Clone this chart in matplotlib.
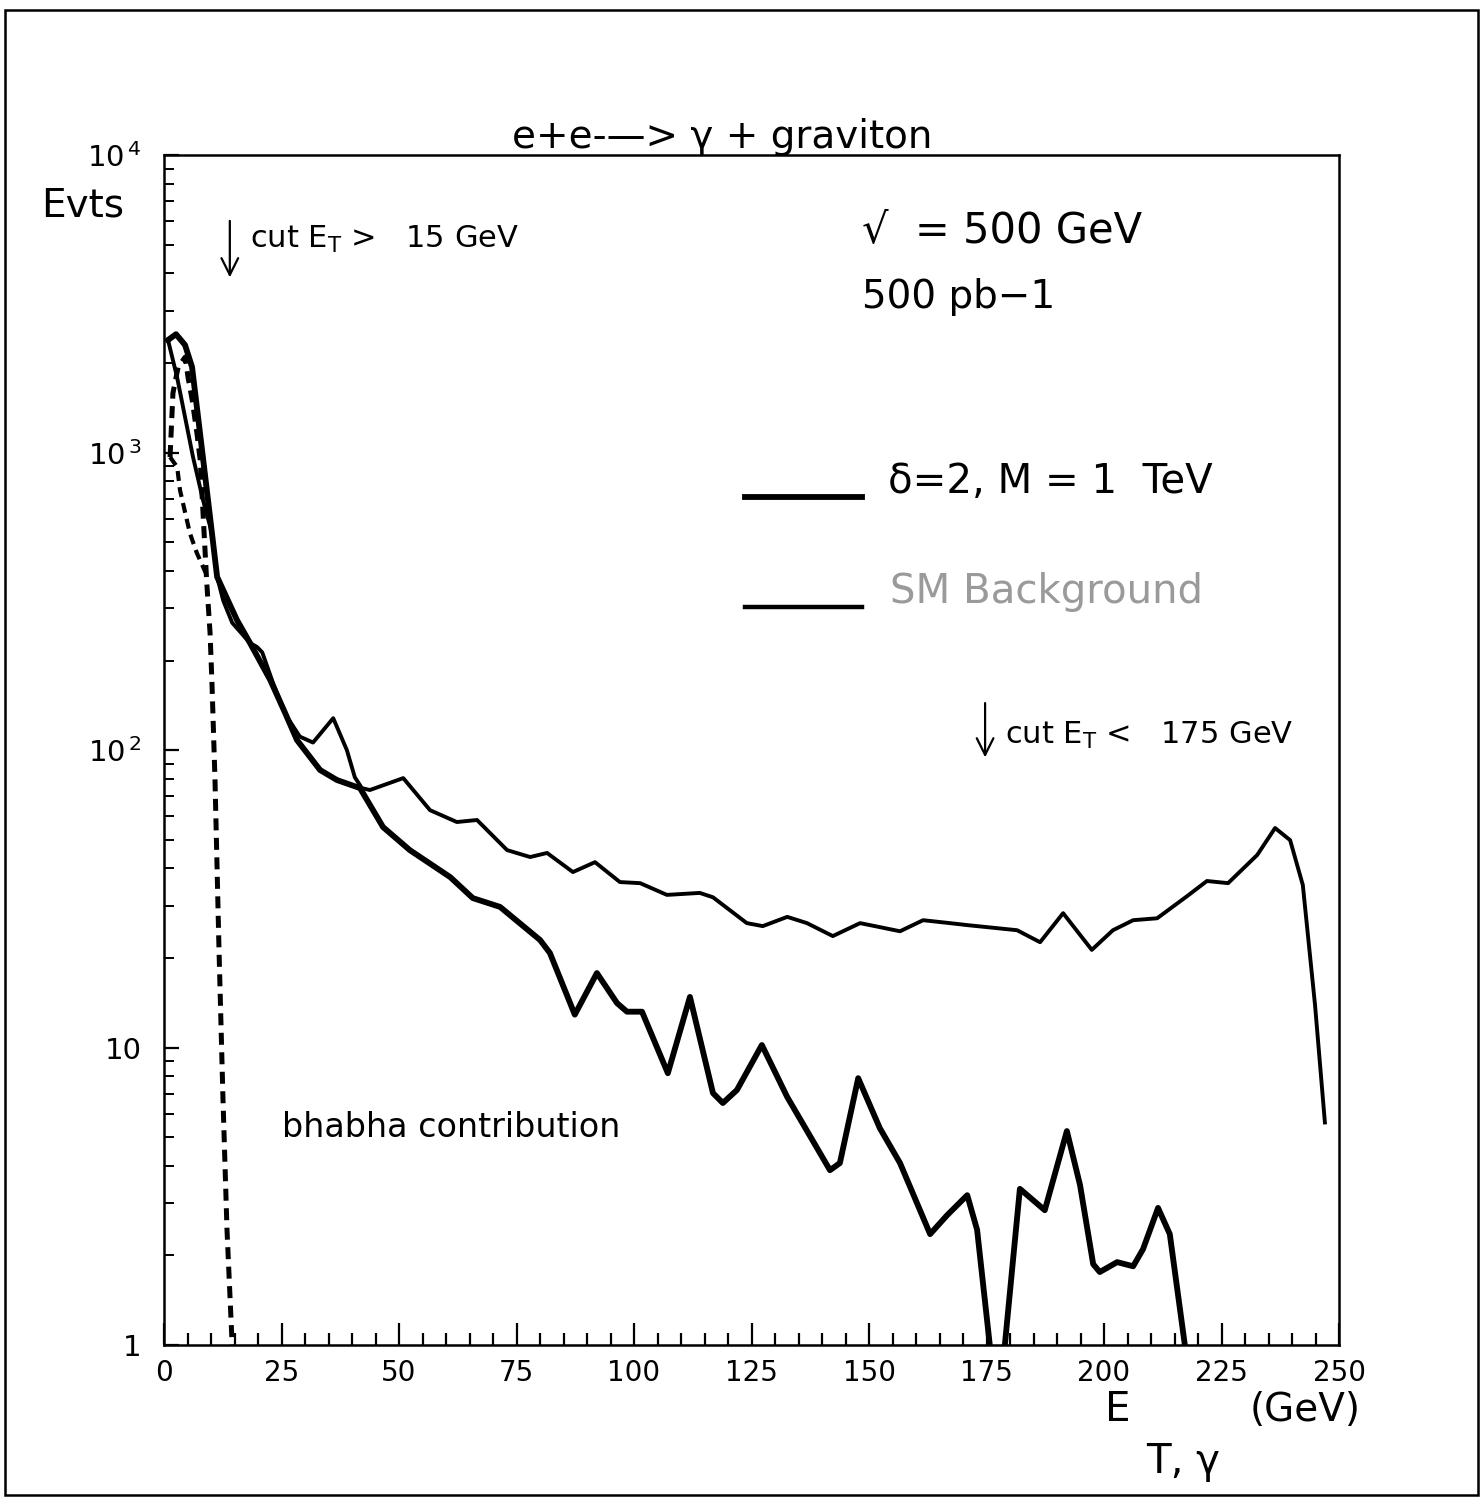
import numpy as np
import matplotlib
matplotlib.use('Agg')
import matplotlib.pyplot as plt
from matplotlib.patches import Rectangle

# signal: delta=2, M = 1 TeV (thick line)
signal_x = [0.85, 2.55, 4.47, 5.96, 8.09, 10.2, 11.3, 15.5, 18.3, 22.6, 25.7, 28.3,
            33.2, 36.8, 41.7, 46.6, 52.3, 60.9, 65.7, 71.5, 80.0, 82.1, 87.4, 92.1,
            96.4, 98.5, 101.7, 107.2, 111.9, 116.8, 118.9, 121.9, 127.2, 132.6,
            141.7, 143.8, 147.7, 152.3, 156.6, 163.0, 166.6, 170.9, 173.0, 175.7,
            176.5, 178.2, 178.9, 182.1, 187.4, 192.1, 194.9, 197.7, 199.1, 202.8,
            206.2, 208.3, 211.5, 214.0, 217.2, 218.0]
signal_y = [2390, 2500, 2300, 1940, 1020, 536, 382, 274, 229, 172, 134, 108,
            85.7, 79.3, 74.5, 55.1, 46.1, 37.4, 31.8, 29.7, 23.0, 20.8, 12.9, 17.8,
            14.1, 13.2, 13.2, 8.2, 14.8, 7.03, 6.51, 7.2, 10.2, 6.82,
            3.87, 4.09, 7.89, 5.36, 4.09, 2.36, 2.73, 3.19, 2.44, 1.0,
            0.5, 0.5, 1.0, 3.35, 2.84, 5.24, 3.45, 1.87, 1.76, 1.90,
            1.84, 2.10, 2.89, 2.36, 1.0, 0.5]

# SM background (thinner line)
bkg_x = [0.85, 2.77, 6.17, 8.30, 10.2, 11.3, 12.6, 14.5, 18.3, 19.8, 20.9, 23.2, 26.2,
         28.9, 31.7, 36.0, 38.9, 40.6, 42.1, 43.8, 50.9, 56.6, 62.3, 66.6, 73.0,
         77.9, 81.5, 87.0, 91.7, 97.0, 101.3, 107.0, 114.0, 116.8, 124.0, 127.4,
         132.6, 136.8, 142.3, 148.1, 152.3, 156.6, 161.5, 167.2, 170.9, 181.5,
         186.4, 191.3, 197.4, 201.9, 206.2, 211.3, 217.7, 221.9, 226.4, 232.6,
         236.4, 239.6, 242.3, 244.9, 247.0]
bkg_y = [2390, 1795, 966, 692, 536, 382, 318, 268, 229, 222, 213, 168, 129,
         111, 106, 128, 100, 81, 74.5, 73.4, 80.5, 62.8, 57.3, 58.2, 46.1,
         43.7, 45.1, 38.9, 42.0, 36.0, 35.7, 32.6, 33.1, 32.0, 26.2, 25.6,
         27.5, 26.2, 23.7, 26.2, 25.4, 24.6, 26.8, 26.2, 25.8, 24.8,
         22.6, 28.3, 21.3, 24.8, 26.8, 27.2, 32.3, 36.3, 35.7, 44.4,
         54.7, 49.8, 35.2, 13.9, 5.6]

# bhabha contribution (dashed), upper branch and lower branch
bhabha_x = [1.28, 1.9, 3.0, 4.5, 5.1, 6.0, 7.0, 7.7, 8.3, 9.1, 9.8, 10.2,
            10.85, 11.7, 12.55, 13.4, 14.5, 14.8]
bhabha_y = [966, 1585, 1937, 2094, 1795, 1500, 1163, 944, 626, 364, 247, 168,
            79, 21.3, 6.66, 2.44, 1.0, 0.5]
bhabha_lo_x = [1.28, 2.8, 3.4, 5.5, 7.0, 9.1]
bhabha_lo_y = [966, 894, 748, 536, 459, 387]

x_ticks = [0, 25, 50, 75, 100, 125, 150, 175, 200, 225, 250]
y_ticks = [1, 10, 100, 1000, 10000]
y_tick_labels = ['1', '10', r'$10^{\,2}$', r'$10^{\,3}$', r'$10^{\,4}$']

plt.rcParams['font.family'] = ['DejaVu Sans']
plt.rcParams['mathtext.fontset'] = 'dejavusans'

fig = plt.figure(figsize=(14.83, 15), dpi=100)
ax = fig.add_axes([0.1106, 0.1033, 0.7923, 0.7933])

ax.plot(bkg_x, bkg_y, color='black', linewidth=2.8, solid_joinstyle='round')
ax.plot(signal_x, signal_y, color='black', linewidth=4.2, solid_joinstyle='round')
ax.plot(bhabha_x, bhabha_y, color='black', linewidth=3.6, linestyle=(0, (2.4, 1.5)))
ax.plot(bhabha_lo_x, bhabha_lo_y, color='black', linewidth=3.0, linestyle=(0, (2.4, 1.5)))

ax.set_yscale('log')
ax.set_xlim(0, 250)
ax.set_ylim(1, 1e4)

ax.set_xticks(x_ticks)
ax.set_xticks(np.arange(0, 251, 5), minor=True)
ax.set_yticks(y_ticks)
ax.set_yticklabels(y_tick_labels)
ax.tick_params(axis='x', which='major', direction='in', length=16, width=1.6,
               labelsize=20, pad=10, top=False)
ax.tick_params(axis='x', which='minor', direction='in', length=8.5, width=1.6, top=False)
ax.tick_params(axis='y', which='major', direction='in', length=11, width=1.6,
               labelsize=21, pad=16, right=False)
ax.tick_params(axis='y', which='minor', direction='in', length=7, width=1.4, right=False)
for sp in ax.spines.values():
    sp.set_linewidth(1.8)

# title and axis labels
ax.text(0.475, 1.006, 'e+e-\u2014> \u03b3 + graviton', transform=ax.transAxes,
        ha='center', va='baseline', fontsize=28)
ax.text(-0.069, 0.958, 'Evts', transform=ax.transAxes, ha='center', va='center', fontsize=28)
ax.text(0.812, -0.055, 'E', transform=ax.transAxes, ha='center', va='center', fontsize=29)
ax.text(0.867, -0.098, 'T, \u03b3', transform=ax.transAxes, ha='center', va='center', fontsize=29)
ax.text(0.971, -0.055, '(GeV)', transform=ax.transAxes, ha='center', va='center', fontsize=28)

# cuts
ax.annotate('', xy=(14.0, 3800), xytext=(14.0, 6140),
            arrowprops=dict(arrowstyle='->', lw=1.6, color='black', mutation_scale=30))
ax.text(18.3, 5200, r'cut E$_{\mathrm{T}}$ >   15 GeV', ha='left', va='center', fontsize=22)
ax.annotate('', xy=(174.7, 92.5), xytext=(174.7, 147),
            arrowprops=dict(arrowstyle='->', lw=1.6, color='black', mutation_scale=30))
ax.text(178.9, 112, r'cut E$_{\mathrm{T}}$ <   175 GeV', ha='left', va='center', fontsize=22)

# beam info
ax.text(148.5, 5600, '\u221a  = 500 GeV', ha='left', va='center', fontsize=30)
ax.text(148.5, 3334, '500 pb\u22121', ha='left', va='center', fontsize=28)

# legend drawn by hand
ax.plot([123.6, 148.5], [708, 708], color='black', linewidth=4.2)
ax.text(154.0, 796, '\u03b4=2, M = 1  TeV', ha='left', va='center', fontsize=29)
ax.plot([123.6, 148.5], [303, 303], color='black', linewidth=3.2)
ax.text(154.5, 340, 'SM Background', ha='left', va='center', fontsize=29, color='#9a9a9a')

ax.text(25.1, 5.4, 'bhabha contribution', ha='left', va='center', fontsize=24)

# outer page frame
fig.patches.append(Rectangle((0.0034, 0.0033), 0.9932, 0.99, transform=fig.transFigure,
                             fill=False, edgecolor='black', linewidth=1.8))

fig.savefig('out.png', dpi=100)
